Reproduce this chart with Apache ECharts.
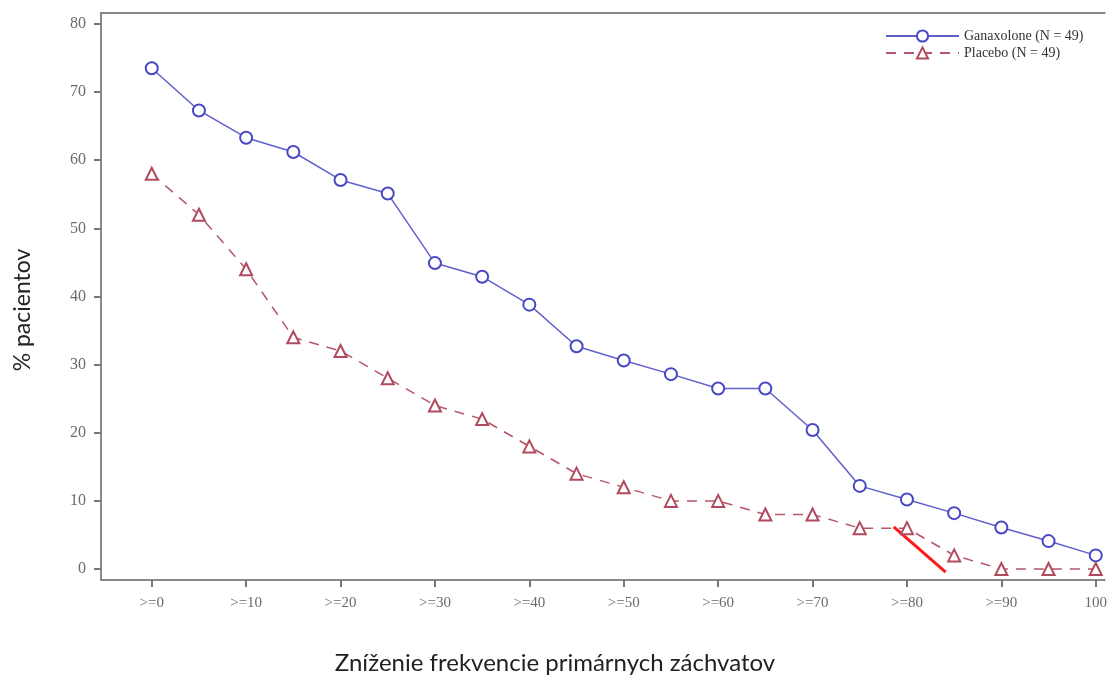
<!DOCTYPE html>
<html>
<head>
<meta charset="utf-8">
<script src="https://cdn.jsdelivr.net/npm/echarts@6/dist/echarts.min.js"></script>
<style>html,body{margin:0;padding:0;background:#fff}#c{width:1110px;height:680px}</style>
</head>
<body>
<div id="c"></div>
<script>
const categories = ['>=0','>=5','>=10','>=15','>=20','>=25','>=30','>=35','>=40','>=45','>=50','>=55','>=60','>=65','>=70','>=75','>=80','>=85','>=90','>=95','>=100'];
const tickLabels = ['>=0','>=10','>=20','>=30','>=40','>=50','>=60','>=70','>=80','>=90','100'];
const ganaxolone = [73.5,67.3,63.3,61.2,57.1,55.1,44.9,42.9,38.8,32.7,30.6,28.6,26.5,26.5,20.4,12.2,10.2,8.2,6.1,4.1,2.0];
const placebo = [58,52,44,34,32,28,24,22,18,14,12,10,10,8,8,6,6,2,0,0,0];
const yTicks = [0,10,20,30,40,50,60,70,80];
// red annotation stroke endpoints [categoryIndex, value]
const annotation = [[15.72,6.2],[16.82,-0.45]];

const toPairs = arr => arr.map((v,i)=>[i,v]);
const tickIdx = tickLabels.map((_,i)=>i*2);

const chart = echarts.init(document.getElementById('c'), null, {renderer:'canvas'});
chart.setOption({
  animation:false,
  backgroundColor:'#fff',
  grid:{left:101, right:0, top:13, bottom:100, containLabel:false},
  legend:{
    orient:'vertical', left:880, top:24, itemWidth:73, itemHeight:14, itemGap:3,
    textStyle:{fontFamily:'Liberation Serif', fontSize:14, color:'#333'},
    data:['Ganaxolone (N = 49)','Placebo (N = 49)']
  },
  xAxis:[{
    type:'value', min:-1.075, max:20.19,
    axisLine:{show:true, onZero:false, lineStyle:{color:'#888', width:2}},
    axisTick:{show:true, length:7, lineStyle:{color:'#777', width:2}, customValues:tickIdx},
    axisLabel:{customValues:tickIdx, margin:16, fontFamily:'Liberation Serif', fontSize:15, color:'#6a6a6a',
      formatter:v=>tickLabels[Math.round(v/2)]},
    splitLine:{show:false}
  },{
    type:'value', position:'top', min:-1.075, max:20.19,
    axisLine:{show:true, onZero:false, lineStyle:{color:'#888', width:2}},
    axisTick:{show:false}, axisLabel:{show:false}, splitLine:{show:false}
  }],
  yAxis:{
    type:'value', min:-1.61, max:81.6,
    axisLine:{show:true, onZero:false, lineStyle:{color:'#888', width:2}},
    axisTick:{show:true, length:7, lineStyle:{color:'#777', width:2}, customValues:yTicks},
    axisLabel:{customValues:yTicks, margin:15, fontFamily:'Liberation Serif', fontSize:16, color:'#6a6a6a'},
    splitLine:{show:false}
  },
  graphic:[
    {type:'text', left:'center', top:651, style:{text:'Zníženie frekvencie primárnych záchvatov', font:'24px Lato, sans-serif', fill:'#222'}},
    {type:'text', x:11, y:310, rotation:Math.PI/2, style:{text:'% pacientov', font:'23px Lato, sans-serif', fill:'#222', align:'center', verticalAlign:'top'}}
  ],
  series:[
    {name:'Ganaxolone (N = 49)', type:'line', data:toPairs(ganaxolone),
     symbol:'emptyCircle', symbolSize:12, color:'#5050c8',
     lineStyle:{color:'#6060cc', width:1.5}, itemStyle:{color:'#4848c4', borderWidth:1.5}},
    {name:'Placebo (N = 49)', type:'line', data:toPairs(placebo),
     symbol:'emptyTriangle', symbolSize:12, color:'#b04a5c',
     lineStyle:{color:'#b5566a', width:1.5, type:[10,8]}, itemStyle:{color:'#b04a5c', borderWidth:1.5}},
    {name:'annotation', type:'line', data:annotation, symbol:'none', silent:true,
     lineStyle:{color:'#ff1a1a', width:3}}
  ]
});
</script>
</body>
</html>
